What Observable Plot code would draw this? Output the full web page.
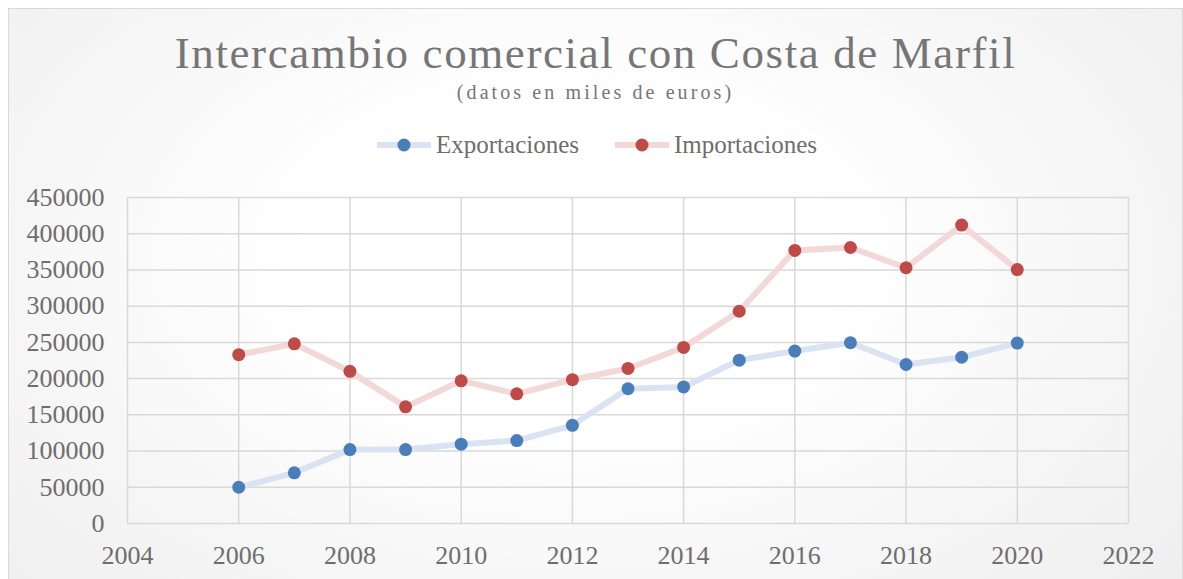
<!DOCTYPE html>
<html>
<head>
<meta charset="utf-8">
<script src="https://cdn.jsdelivr.net/npm/d3@7"></script>
<script src="https://cdn.jsdelivr.net/npm/@observablehq/plot@0.6"></script>
<style>
  html, body { margin: 0; padding: 0; background: #fff; overflow: hidden; }
  body { width: 1183px; height: 579px; position: relative; font-family: "Liberation Serif", serif; }
  #box {
    position: absolute; left: 8px; top: 8px; width: 1173px; height: 600px;
    border: 1px solid #d9d9d9;
    background: radial-gradient(ellipse 75% 90% at 48% 42%, #ffffff 30%, #ececec 100%);
  }
  #header { position: relative; height: 161px; }
  #title { position: absolute; left: 0; right: 0; top: 22px; text-align: center;
    font-size: 45px; line-height: 45px; color: #767676; letter-spacing: 1.6px; white-space: nowrap; }
  #subtitle { position: absolute; left: 0; right: 0; top: 73px; text-align: center;
    font-size: 20px; line-height: 20px; color: #767676; letter-spacing: 3.1px; white-space: nowrap; }
  .leg { position: absolute; top: 123px; height: 25px; display: flex; align-items: center;
    font-size: 25px; line-height: 25px; color: #6e6e6e; white-space: nowrap; }
  .leg svg { margin-right: 5px; }
  #chart svg { display: block; }
</style>
</head>
<body>
<div id="box">
  <div id="header">
    <div id="title">Intercambio comercial con Costa de Marfil</div>
    <div id="subtitle">(datos en miles de euros)</div>
    <div id="legend"></div>
  </div>
  <div id="chart"></div>
</div>
<script>
const years = [2006, 2007, 2008, 2009, 2010, 2011, 2012, 2013, 2014, 2015, 2016, 2017, 2018, 2019, 2020];
const exportaciones = [50000, 70000, 102000, 102000, 109500, 114500, 135500, 186000, 188500, 225500, 238000, 249500, 219500, 229500, 249000];
const importaciones = [233000, 248000, 210000, 161000, 197000, 179000, 198500, 214000, 243000, 293000, 377000, 381000, 353000, 412000, 350500];
const seriesNames = ["Exportaciones", "Importaciones"];
const lineColors = ["#dae3f2", "#f2d8d7"];
const dotColors = ["#4a7ebb", "#be4b48"];
const xTicks = [2004, 2006, 2008, 2010, 2012, 2014, 2016, 2018, 2020, 2022];
const yTicks = [0, 50000, 100000, 150000, 200000, 250000, 300000, 350000, 400000, 450000];

const data = [];
years.forEach((y, i) => {
  data.push({year: y, value: exportaciones[i], serie: seriesNames[0]});
  data.push({year: y, value: importaciones[i], serie: seriesNames[1]});
});

// Legend
const legendLefts = [368, 606];
const legend = document.getElementById("legend");
seriesNames.forEach((name, i) => {
  const item = document.createElement("div");
  item.className = "leg";
  item.style.left = legendLefts[i] + "px";
  item.innerHTML = `<svg width="54" height="16"><line x1="0" y1="8" x2="54" y2="8" stroke="${lineColors[i]}" stroke-width="6"/><circle cx="27" cy="8" r="6.5" fill="${dotColors[i]}"/></svg><span>${name}</span>`;
  legend.appendChild(item);
});

const chart = Plot.plot({
  width: 1173,
  height: 409,
  marginLeft: 118,
  marginRight: 54,
  marginTop: 27,
  marginBottom: 56,
  style: { fontFamily: "Liberation Serif, serif", background: "transparent", color: "#6e6e6e" },
  x: { domain: [2004, 2022], label: null },
  y: { domain: [0, 450000], label: null },
  marks: [
    Plot.gridX(xTicks, { stroke: "#d9d9d9", strokeOpacity: 1, strokeWidth: 1.5 }),
    Plot.gridY(yTicks, { stroke: "#d9d9d9", strokeOpacity: 1, strokeWidth: 1.5 }),
    Plot.axisX(xTicks, { tickSize: 0, tickPadding: 22, fontSize: 26, tickFormat: d => String(d), fill: "#6e6e6e", label: null }),
    Plot.axisY(yTicks, { tickSize: 0, tickPadding: 23, fontSize: 26, tickFormat: d => String(d), fill: "#6e6e6e", label: null }),
    Plot.line(data, { x: "year", y: "value", z: "serie", stroke: d => lineColors[seriesNames.indexOf(d.serie)], strokeWidth: 6 }),
    Plot.dot(data, { x: "year", y: "value", fill: d => dotColors[seriesNames.indexOf(d.serie)], r: 6.5 })
  ]
});
document.getElementById("chart").appendChild(chart);
</script>
</body>
</html>
